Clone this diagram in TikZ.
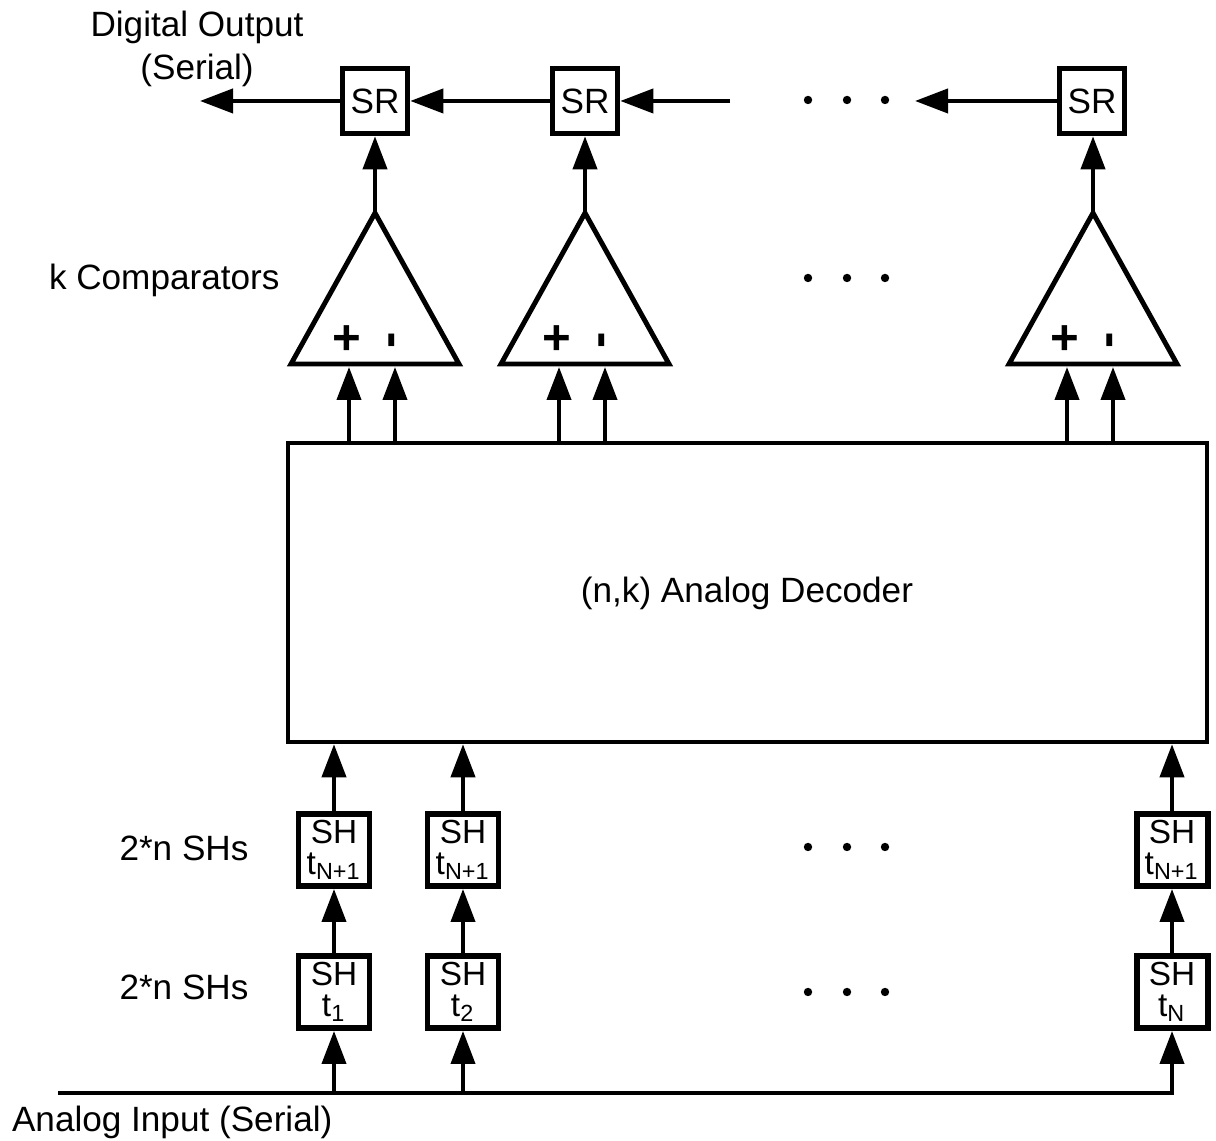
\documentclass[tikz,border=0pt]{standalone}
\usepackage{fontspec}
\setmainfont{Liberation Sans}
\usetikzlibrary{arrows.meta,positioning,calc}

\begin{document}
\begin{tikzpicture}[line width=1.15pt, >={Triangle[length=3.3mm,width=2.4mm]},
  every node/.style={font=\fontsize{10}{12.2}\selectfont},
  srbox/.style={draw, line width=1.6pt, fill=white, inner sep=0pt, minimum width=0.65cm, minimum height=0.65cm},
  shbox/.style={draw, line width=1.7pt, fill=white, inner sep=0pt, minimum width=0.71cm, minimum height=0.72cm, align=center, font=\fontsize{9.5}{8.6}\selectfont},
  comp/.style={line width=1.4pt, line join=miter}]
\useasboundingbox (0,0) rectangle (12.16,11.41);

% ---- shift registers (serial out)
\node[srbox] (sr1) at (3.75,10.40) {SR};
\node[srbox] (sr2) at (5.85,10.40) {SR};
\node[srbox] (sr3) at (10.92,10.40) {SR};
\node[align=center] (dout) at (1.97,10.92) {Digital Output\\(Serial)};
\coordinate (outend) at (2.00,10.40);
\coordinate (chainL) at (7.30,10.40);
\coordinate (chainR) at (9.15,10.40);
\draw[->] (sr1) -- (outend);
\draw[->] (sr2) -- (sr1);
\draw[->] (chainL) -- (sr2);
\draw[->] (sr3) -- (chainR);

% ---- decoder
\node[draw, line width=1.3pt, minimum width=9.19cm, minimum height=2.99cm, inner sep=0pt] (dec) at (7.475,5.485) {};
\node (declab) at (7.47,5.48) {(n,k) Analog Decoder};

% ---- comparators
\node[anchor=west, inner sep=0pt] (klab) at (0.47,8.61) {k Comparators};
\foreach \name/\x/\sr in {c1/3.75/sr1, c2/5.85/sr2, c3/10.93/sr3} {
  \draw[comp] (\x,9.28) coordinate (\name top) -- ({\x-0.84},7.77) -- ({\x+0.84},7.77) -- cycle;
  \node[font=\fontsize{14}{14}\bfseries] (\name plus) at ({\x-0.28},8.01) {+};
  \node[font=\fontsize{14}{14}\bfseries, rotate=90] (\name minus) at ({\x+0.22},8.01) {-};
  \coordinate (\name p) at ({\x-0.26},7.74);
  \coordinate (\name m) at ({\x+0.20},7.74);
  \draw[->] (\name p |- dec.north) -- (\name p);
  \draw[->] (\name m |- dec.north) -- (\name m);
  \draw[->] (\name top) -- (\name top |- \sr.south);
}

% ---- sample and hold
\node (shlabb) at (1.84,2.93) {2*n SHs};
\node (shlaba) at (1.84,1.54) {2*n SHs};
\coordinate (inL) at (0.60,0.48);
\node[anchor=west, inner sep=0pt] (ain) at (0.10,0.19) {Analog Input (Serial)};
\foreach \i/\x/\sub in {1/3.34/1, 2/4.63/2, 3/11.72/N} {
  \node[shbox] (sh\i a) at (\x,1.49) {SH\\t\textsubscript{\sub}};
  \node[shbox] (sh\i b) at (\x,2.91) {SH\\t\textsubscript{N+1}};
  \coordinate (in\i) at (\x,0.48);
  \draw[->] (in\i) -- (sh\i a);
  \draw[->] (sh\i a) -- (sh\i b);
  \draw[->] (sh\i b) -- (sh\i b |- dec.south);
}
\draw[line cap=rect] (inL) -- (in3);

% ---- dots
\foreach \y in {10.41,8.63,2.94,1.49}
  \foreach \x in {8.08,8.47,8.85}
    \fill (\x,\y) circle (0.042);
\end{tikzpicture}
\end{document}
